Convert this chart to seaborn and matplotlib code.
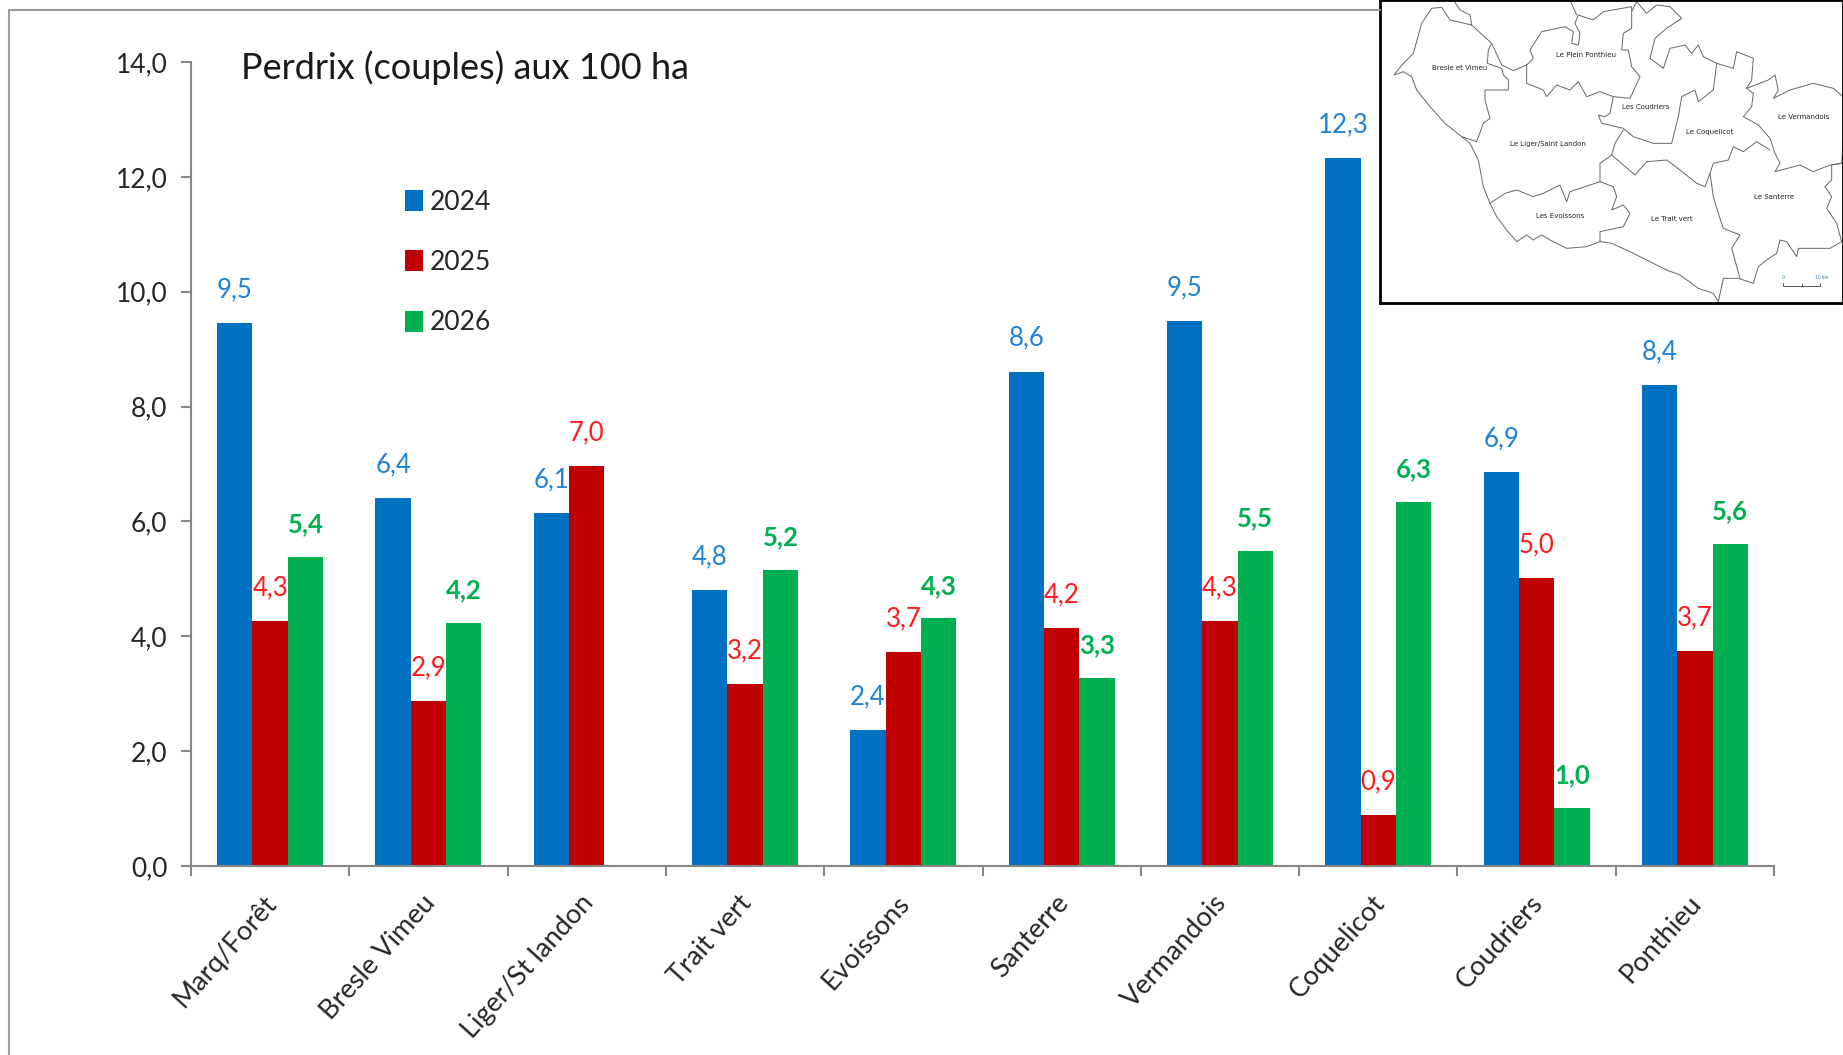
import pandas as pd
import seaborn as sns
import matplotlib.pyplot as plt
from matplotlib.lines import Line2D
from matplotlib.ticker import FixedLocator
from matplotlib.transforms import ScaledTranslation

secteurs = ["Marq/Forêt", "Bresle Vimeu", "Liger/St landon", "Trait vert", "Evoissons",
            "Santerre", "Vermandois", "Coquelicot", "Coudriers", "Ponthieu"]
v2024 = [9.46, 6.41, 6.14, 4.81, 2.37, 8.61, 9.49, 12.32, 6.86, 8.38]
v2025 = [4.27, 2.87, 6.97, 3.17, 3.72, 4.15, 4.27, 0.88, 5.01, 3.74]
v2026 = [5.38, 4.24, None, 5.15, 4.31, 3.27, 5.48, 6.34, 1.01, 5.60]
annees = ["2024", "2025", "2026"]
yticks = [0, 2, 4, 6, 8, 10, 12, 14]

couleurs = ["#0070C0", "#C00000", "#00B050"]
couleurs_txt = ["#1F82D2", "#FF1A1A", "#00B050"]
gris = "#868686"

# contours de la carte (traces a la main, en pixels de la vignette)
contours = [
    [(250, 0), (270, 30), (300, 45), (305, 75), (365, 130), (355, 150), (352, 190), (395, 205), (400, 225),
     (415, 240), (415, 270), (345, 270), (345, 300), (360, 355), (340, 370), (320, 425), (275, 410), (225, 370),
     (180, 320), (140, 270), (125, 230), (100, 215), (72, 225), (100, 190), (130, 160), (155, 70), (185, 25),
     (215, 22), (240, 60), (305, 75)],
    [(365, 130), (395, 195), (430, 212), (470, 195)],
    [(470, 195), (470, 250), (520, 270), (530, 290), (560, 255), (600, 270), (625, 245), (650, 290), (690, 275),
     (730, 290), (780, 295), (810, 230), (785, 200), (775, 150), (755, 150), (760, 100), (785, 85), (785, 20),
     (700, 35), (670, 60), (625, 45), (615, 70), (630, 100), (625, 135), (605, 130), (610, 95), (585, 80),
     (515, 95), (480, 150), (490, 175), (470, 195)],
    [(600, 0), (620, 45)],
    [(785, 35), (800, 5), (830, 40), (860, 15), (900, 20), (935, 55), (890, 85), (855, 115), (840, 175),
     (880, 205), (900, 145), (945, 135), (965, 160), (985, 135), (1000, 170), (1040, 190), (1090, 205),
     (1100, 155), (1150, 175), (1145, 240), (1130, 265), (1150, 280), (1145, 320), (1120, 350), (1165, 375),
     (1200, 415), (1215, 460), (1230, 490), (1215, 515), (1290, 495), (1330, 515), (1380, 495), (1415, 490)],
    [(1130, 265), (1195, 240), (1215, 225), (1225, 270), (1210, 295), (1260, 270), (1330, 250), (1390, 265),
     (1419, 290)],
    [(1419, 430), (1415, 490), (1385, 495), (1385, 540), (1365, 560), (1385, 590), (1370, 625), (1400, 670),
     (1415, 725), (1380, 745), (1340, 745), (1285, 745), (1280, 770), (1250, 725), (1230, 720), (1220, 760),
     (1190, 780), (1165, 800), (1150, 850), (1105, 835), (1060, 835), (1045, 905), (1030, 880), (985, 865),
     (930, 825), (890, 810), (850, 790), (780, 755), (725, 730), (690, 725), (650, 740), (590, 745), (540, 720),
     (515, 705), (490, 720), (470, 705), (440, 725), (410, 690), (380, 650), (360, 610), (340, 560), (325, 480),
     (300, 430), (275, 410)],
    [(730, 290), (720, 340), (705, 350), (685, 345), (695, 370), (760, 385), (790, 410), (850, 430), (905, 430),
     (925, 350), (935, 290), (975, 270), (985, 305), (1030, 270), (1040, 190)],
    [(760, 390), (735, 430), (725, 465), (690, 490), (690, 545), (600, 575), (590, 605), (570, 555), (520, 580),
     (490, 590), (440, 570), (405, 580), (360, 610)],
    [(690, 545), (730, 560), (740, 590), (725, 630), (760, 615), (780, 640), (760, 680), (690, 695), (690, 725)],
    [(725, 465), (760, 495), (795, 525), (830, 485), (890, 480), (930, 510), (980, 550), (1005, 560), (1020, 520),
     (1030, 490), (1075, 480), (1090, 440), (1120, 455), (1160, 425), (1200, 450)],
    [(1020, 520), (1030, 590), (1045, 640), (1060, 685), (1110, 705), (1085, 745), (1110, 835)],
]
noms_carte = [("Bresle et Vimeu", 268, 203), ("Le Plein Ponthieu", 647, 164), ("Les Coudriers", 827, 320),
              ("Le Vermandois", 1302, 351), ("Le Coquelicot", 1019, 397), ("Le Liger/Saint Landon", 535, 431),
              ("Le Santerre", 1211, 591), ("Les Evoissons", 569, 647), ("Le Trait vert", 904, 658)]

sns.set_style("white")
plt.rcParams['font.family'] = ['Lato', 'DejaVu Sans']

df = pd.DataFrame({"secteur": secteurs, "2024": v2024, "2025": v2025, "2026": v2026})
df = df.melt(id_vars="secteur", var_name="annee", value_name="valeur")

W, H = 1843, 1055
fig = plt.figure(figsize=(W / 100, H / 100), dpi=100)
ax = fig.add_axes([191 / W, 1 - 866 / H, (1774 - 191) / W, (866 - 62) / H])

sns.barplot(data=df, x="secteur", y="valeur", hue="annee", palette=couleurs, width=0.67, gap=0,
            saturation=1, errorbar=None, linewidth=0, ax=ax)

# etiquettes de valeurs, virgule decimale
series = [v2024, v2025, v2026]
for i, cont in enumerate(ax.containers):
    for barre in cont:
        if barre is None:
            continue
        xc = barre.get_x() + barre.get_width() / 2
        v = series[i][round(xc)]
        if v is None:
            continue
        ax.annotate(f"{v:.1f}".replace(".", ","), (xc, barre.get_height()), xytext=(0, 15),
                    textcoords="offset points", ha="center", va="bottom", color=couleurs_txt[i], fontsize=18.5,
                    fontweight="bold" if i == 2 else "normal", annotation_clip=False)

ax.set_xlim(-0.5, 9.5)
ax.set_ylim(0, 14)
ax.set_xlabel("")
ax.set_ylabel("")
ax.set_yticks(yticks)
ax.set_yticklabels([f"{t:.1f}".replace(".", ",") for t in yticks])
ax.tick_params(axis="y", left=True, length=7, width=1.5, color=gris, labelsize=19, labelcolor="#262626", pad=10)

# graduations x entre les categories
ax.xaxis.set_minor_locator(FixedLocator([i - 0.5 for i in range(11)]))
ax.tick_params(axis="x", which="minor", bottom=True, length=7, width=1.5, color=gris)
ax.tick_params(axis="x", which="major", bottom=False, labelsize=19.5, labelcolor="#262626", pad=14)
decalage = ScaledTranslation(-7 / 100, 0, fig.dpi_scale_trans)
for lab in ax.get_xticklabels():
    lab.set_rotation(48)
    lab.set_ha("right")
    lab.set_rotation_mode("anchor")
    lab.set_transform(lab.get_transform() + decalage)

sns.despine(ax=ax)
ax.spines["left"].set_color(gris)
ax.spines["bottom"].set_color(gris)
ax.spines["left"].set_linewidth(1.5)
ax.spines["bottom"].set_linewidth(1.5)

fig.text(241 / W, 1 - 68 / H, "Perdrix (couples) aux 100 ha", fontsize=26, color="#1a1a1a", va="center")

handles, labels = ax.get_legend_handles_labels()
ax.legend(handles, annees, loc="upper left", bbox_to_anchor=(405 / W, 1 - 190 / H),
          bbox_transform=fig.transFigure, frameon=False, fontsize=19, handlelength=0.68, handleheight=0.85,
          handletextpad=0.25, labelspacing=1.33, labelcolor="#262626", borderpad=0, borderaxespad=0)

# cadre gris du contour
fig.add_artist(Line2D([8.5 / W, 8.5 / W, 1380 / W], [0, 1 - 10 / H, 1 - 10 / H], color="#9a9a9a", lw=1.5))

# carte en vignette
carte = fig.add_axes([1380 / W, 1 - 303 / H, (W - 1380) / W, 303 / H])
carte.set_xlim(30, 1419)
carte.set_ylim(909, 0)
carte.set_xticks([])
carte.set_yticks([])
for s in carte.spines.values():
    s.set_color("black")
    s.set_linewidth(2)
for c in contours:
    carte.plot([p[0] for p in c], [p[1] for p in c], color="#666666", lw=0.7)
for nom, x, y in noms_carte:
    carte.text(x, y, nom, fontsize=5, ha="center", va="center", color="#222222", family="DejaVu Sans")
carte.plot([1240, 1240, 1240, 1350, 1350], [848, 858, 858, 858, 848], color="#555555", lw=0.7)
carte.plot([1295, 1295], [852, 858], color="#555555", lw=0.7)
carte.text(1240, 833, "0", fontsize=3.5, ha="center", va="center", color="#4a7fa0")
carte.text(1355, 833, "10 km", fontsize=3.5, ha="center", va="center", color="#4a7fa0")

fig.savefig("out.png", dpi=100, facecolor="white")
